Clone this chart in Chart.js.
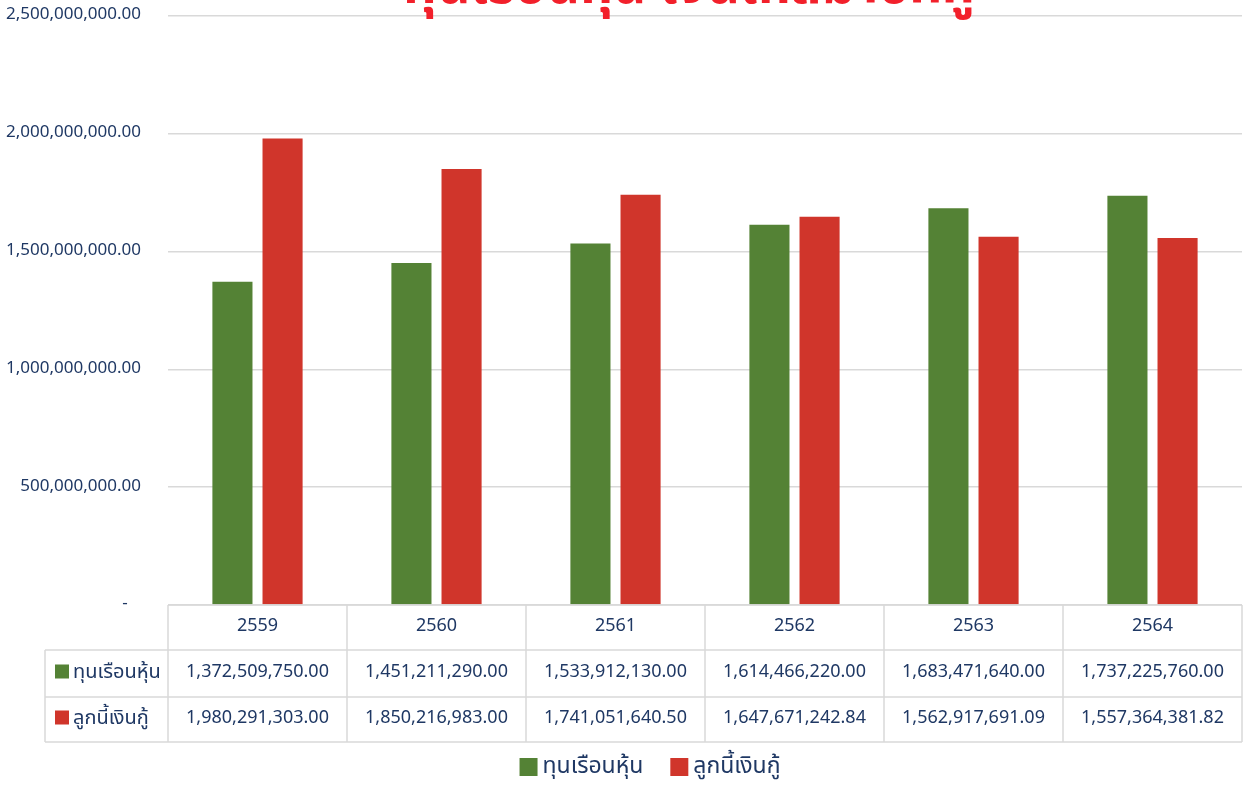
<!DOCTYPE html>
<html>
<head>
<meta charset="utf-8">
<script src="https://cdn.jsdelivr.net/npm/chart.js@4/dist/chart.umd.min.js"></script>
<style>
  html, body { margin: 0; padding: 0; background: #fff; }
  #wrap { width: 1244px; height: 789px; position: relative; }
</style>
</head>
<body>
<div id="wrap"><canvas id="chart"></canvas></div>
<script>
// chart data
const years = ['2559', '2560', '2561', '2562', '2563', '2564'];
const shareCapital = [1372509750.00, 1451211290.00, 1533912130.00, 1614466220.00, 1683471640.00, 1737225760.00];
const loanDebtors = [1980291303.00, 1850216983.00, 1741051640.50, 1647671242.84, 1562917691.09, 1557364381.82];
const seriesNames = ['ทุนเรือนหุ้น', 'ลูกนี้เงินกู้'];
const seriesColors = ['#548235', '#d0352b'];
const chartTitle = 'ทุนเรือนหุ้น เงินให้สมาชิกกู้';
const yMax = 2500000000;
const yStep = 500000000;

const FONT = "'Noto Sans Thai', 'Noto Sans', 'Liberation Sans', sans-serif";
const TEXT = '#1f3864';
const GRID = '#d9d9d9';

function fmt(v) {
    return v.toLocaleString('en-US', {minimumFractionDigits: 2, maximumFractionDigits: 2});
}

// title is clipped at the top of the picture, so draw it by hand
const titlePlugin = {
    id: 'clippedTitle',
    afterDraw(chart) {
        const ctx = chart.ctx;
        ctx.save();
        ctx.fillStyle = '#f2202b';
        ctx.font = 'bold 62px ' + FONT;
        ctx.textAlign = 'center';
        ctx.textBaseline = 'alphabetic';
        const w = ctx.measureText(chartTitle).width;
        ctx.translate(689, 3);
        ctx.scale(572 / w, 1);
        ctx.fillText(chartTitle, 0, 0);
        ctx.restore();
    }
};

// data table under the plot
const tablePlugin = {
    id: 'dataTable',
    afterDraw(chart) {
        const ctx = chart.ctx;
        const x = chart.scales.x;
        const top = chart.chartArea.bottom;
        const rowH = [45, 47, 45];
        const labelLeft = 45;
        const colW = x.width / years.length;
        const rows = [top, top + rowH[0], top + rowH[0] + rowH[1], top + rowH[0] + rowH[1] + rowH[2]];

        ctx.save();
        ctx.strokeStyle = GRID;
        ctx.lineWidth = 1.5;

        ctx.beginPath();
        ctx.moveTo(x.left, rows[0]); ctx.lineTo(x.right, rows[0]);
        for (let r = 1; r < rows.length; r++) {
            ctx.moveTo(labelLeft, rows[r]); ctx.lineTo(x.right, rows[r]);
        }
        for (let c = 0; c <= years.length; c++) {
            const px = x.left + c * colW;
            ctx.moveTo(px, rows[0]); ctx.lineTo(px, rows[3]);
        }
        ctx.moveTo(labelLeft, rows[1]); ctx.lineTo(labelLeft, rows[3]);
        ctx.stroke();

        ctx.fillStyle = TEXT;
        ctx.font = '18px ' + FONT;
        ctx.textAlign = 'center';
        ctx.textBaseline = 'middle';
        years.forEach((y, i) => {
            const cx = x.getPixelForValue(i);
            ctx.fillText(y, cx, (rows[0] + rows[1]) / 2);
            ctx.fillText(fmt(shareCapital[i]), cx, (rows[1] + rows[2]) / 2);
            ctx.fillText(fmt(loanDebtors[i]), cx, (rows[2] + rows[3]) / 2);
        });

        // row labels with colour keys
        ctx.textAlign = 'left';
        ctx.font = '20px ' + FONT;
        seriesNames.forEach((name, i) => {
            const cy = (rows[i + 1] + rows[i + 2]) / 2;
            ctx.fillStyle = seriesColors[i];
            ctx.fillRect(55, cy - 9, 14, 14);
            ctx.fillStyle = TEXT;
            ctx.fillText(name, 73, cy);
        });

        // legend below the table
        ctx.font = '23px ' + FONT;
        const ly = 768;
        const gap = 5, box = 18, between = 27;
        const widths = seriesNames.map(n => ctx.measureText(n).width);
        const total = widths.reduce((a, w) => a + box + gap + w, 0) + between;
        let lx = 650 - total / 2;
        seriesNames.forEach((name, i) => {
            ctx.fillStyle = seriesColors[i];
            ctx.fillRect(lx, ly - 10, box, box);
            ctx.fillStyle = TEXT;
            ctx.fillText(name, lx + box + gap, ly);
            lx += box + gap + widths[i] + between;
        });
        ctx.restore();
    }
};

new Chart(document.getElementById('chart'), {
    type: 'bar',
    data: {
        labels: years,
        datasets: [
            {label: seriesNames[0], data: shareCapital, backgroundColor: seriesColors[0]},
            {label: seriesNames[1], data: loanDebtors, backgroundColor: seriesColors[1]}
        ]
    },
    options: {
        responsive: true,
        maintainAspectRatio: false,
        animation: false,
        categoryPercentage: 0.56,
        barPercentage: 0.8,
        layout: {padding: {top: 16, right: 2, left: 0, bottom: 47}},
        scales: {
            x: {
                grid: {display: false},
                border: {display: false},
                ticks: {display: false},
                afterFit(scale) { scale.height = 137; }
            },
            y: {
                min: 0,
                max: yMax,
                ticks: {
                    stepSize: yStep,
                    color: TEXT,
                    font: {family: FONT, size: 17},
                    padding: 27,
                    callback: v => v === 0 ? '-   ' : fmt(v)
                },
                grid: {color: GRID, lineWidth: 1.5, drawTicks: false},
                border: {display: false},
                afterFit(scale) {
                    scale.width = 168;
                    scale.paddingTop = 0;
                    scale.paddingBottom = 0;
                }
            }
        },
        plugins: {
            legend: {display: false},
            tooltip: {enabled: false}
        }
    },
    plugins: [titlePlugin, tablePlugin]
});
</script>
</body>
</html>
